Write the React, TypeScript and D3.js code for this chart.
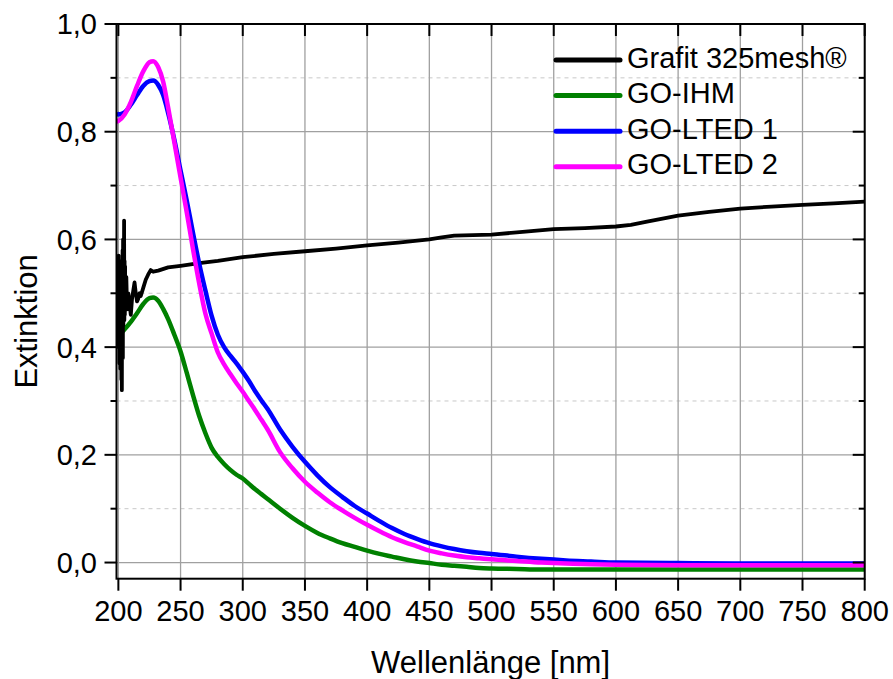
import React from "react";
import * as d3 from "d3";

// ---- data ----
const WAVELENGTHS = [198.5, 200, 205, 210, 215, 220, 225, 228, 232, 236, 240, 245, 250, 255, 260, 265, 270, 275, 280, 285, 290, 295, 300, 305, 310, 315, 320, 330, 340, 350, 360, 370, 380, 390, 400, 410, 420, 430, 440, 450, 460, 470, 480, 490, 500, 520, 540, 560, 580, 600, 650, 700, 750, 800];

const GO_LTED1 = [0.835, 0.832, 0.836, 0.850, 0.868, 0.885, 0.894, 0.895, 0.887, 0.868, 0.835, 0.785, 0.728, 0.672, 0.612, 0.555, 0.505, 0.458, 0.423, 0.400, 0.384, 0.370, 0.354, 0.337, 0.318, 0.301, 0.285, 0.247, 0.215, 0.187, 0.162, 0.140, 0.122, 0.105, 0.091, 0.077, 0.064, 0.053, 0.044, 0.036, 0.030, 0.025, 0.021, 0.018, 0.016, 0.011, 0.007, 0.004, 0.002, 0.000, -0.001, -0.002, -0.002, -0.002];

const GO_LTED2 = [0.818, 0.820, 0.832, 0.855, 0.885, 0.912, 0.929, 0.931, 0.920, 0.893, 0.845, 0.780, 0.715, 0.650, 0.582, 0.518, 0.462, 0.425, 0.390, 0.368, 0.350, 0.333, 0.317, 0.300, 0.283, 0.265, 0.247, 0.205, 0.175, 0.150, 0.130, 0.112, 0.097, 0.083, 0.070, 0.058, 0.047, 0.038, 0.030, 0.022, 0.017, 0.013, 0.010, 0.008, 0.006, 0.003, 0.000, -0.002, -0.003, -0.004, -0.005, -0.005, -0.005, -0.005];

const GO_IHM = [0.415, 0.420, 0.433, 0.447, 0.463, 0.480, 0.491, 0.492, 0.486, 0.471, 0.452, 0.423, 0.392, 0.352, 0.311, 0.272, 0.240, 0.213, 0.196, 0.183, 0.172, 0.163, 0.156, 0.146, 0.136, 0.127, 0.118, 0.100, 0.083, 0.068, 0.055, 0.045, 0.036, 0.029, 0.022, 0.016, 0.011, 0.006, 0.002, -0.001, -0.004, -0.006, -0.008, -0.010, -0.011, -0.012, -0.013, -0.013, -0.013, -0.013, -0.013, -0.013, -0.013, -0.013];

const GRAFIT_WAVELENGTHS = [198.6, 198.8, 199, 199.2, 199.4, 199.6, 199.8, 200, 200.2, 200.4, 200.6, 200.8, 201, 201.2, 201.4, 201.6, 201.8, 202, 202.2, 202.4, 202.6, 202.8, 203, 203.2, 203.4, 203.6, 203.8, 204, 204.2, 204.4, 204.6, 204.8, 205, 205.2, 205.4, 205.6, 205.8, 206.4, 207, 208, 209, 210, 211, 212, 213, 214, 215, 216, 217, 218, 220, 222, 224, 226, 228, 232, 240, 250, 265, 280, 300, 325, 350, 375, 400, 425, 450, 460, 470, 485, 500, 525, 550, 575, 600, 612, 625, 650, 675, 700, 725, 750, 775, 800];

const GRAFIT = [0.52, 0.44, 0.56, 0.42, 0.55, 0.46, 0.56, 0.40, 0.57, 0.43, 0.55, 0.37, 0.56, 0.40, 0.54, 0.36, 0.55, 0.39, 0.52, 0.34, 0.56, 0.32, 0.53, 0.41, 0.58, 0.38, 0.60, 0.44, 0.58, 0.47, 0.635, 0.45, 0.56, 0.46, 0.55, 0.47, 0.52, 0.53, 0.47, 0.50, 0.48, 0.46, 0.49, 0.505, 0.52, 0.50, 0.485, 0.49, 0.50, 0.495, 0.51, 0.525, 0.535, 0.543, 0.540, 0.542, 0.548, 0.551, 0.556, 0.560, 0.567, 0.573, 0.578, 0.583, 0.589, 0.594, 0.600, 0.604, 0.607, 0.608, 0.609, 0.614, 0.619, 0.621, 0.624, 0.627, 0.633, 0.644, 0.651, 0.657, 0.661, 0.664, 0.667, 0.670];

const LEGEND_LABELS = ["Grafit 325mesh®", "GO-IHM", "GO-LTED 1", "GO-LTED 2"];
const X_TICKS = [200, 250, 300, 350, 400, 450, 500, 550, 600, 650, 700, 750, 800];
const Y_TICKS = [0, 0.2, 0.4, 0.6, 0.8, 1.0];
const Y_MINOR = [0.1, 0.3, 0.5, 0.7, 0.9];
const X_TITLE = "Wellenlänge [nm]";
const Y_TITLE = "Extinktion";

// ---- layout ----
const W = 893, H = 679;
const L = 116.5, R = 864.7, T = 24, B = 578.7;
const FONT = "Arial, 'Liberation Sans', sans-serif";

export default function App() {
  const x = d3.scaleLinear().domain([198.5, 800]).range([L, R]);
  const y = d3.scaleLinear().domain([-0.03, 1.0]).range([B, T]);

  const mk = (xs: number[], ys: number[], curve: any) =>
    d3.line<number>().x((_, i) => x(xs[i])).y((v) => y(v)).curve(curve)(ys) || "";

  const series = [
    { key: "ihm", d: mk(WAVELENGTHS, GO_IHM, d3.curveMonotoneX), color: "#008000", w: 4.5 },
    { key: "graf", d: mk(GRAFIT_WAVELENGTHS, GRAFIT, d3.curveLinear), color: "#000000", w: 3.8 },
    { key: "l1", d: mk(WAVELENGTHS, GO_LTED1, d3.curveMonotoneX), color: "#0000ff", w: 4.5 },
    { key: "l2", d: mk(WAVELENGTHS, GO_LTED2, d3.curveMonotoneX), color: "#ff00ff", w: 4.5 },
  ];
  const legendColors = ["#000000", "#008000", "#0000ff", "#ff00ff"];
  const fmt = (v: number) => d3.format(".1f")(v).replace(".", ",");

  return (
    <svg width={W} height={H} style={{ position: "absolute", left: 0, top: 0, background: "#fff" }} fontFamily={FONT}>
      <defs>
        <clipPath id="plot">
          <rect x={L} y={T} width={R - L} height={B - T} />
        </clipPath>
      </defs>
      <rect x={0} y={0} width={W} height={H} fill="#fff" />
      {/* grid */}
      {Y_MINOR.map((v) => (
        <line key={"ym" + v} x1={L} x2={R} y1={y(v)} y2={y(v)} stroke="#c8c8c8" strokeWidth={1} strokeDasharray="4 4" />
      ))}
      {Y_TICKS.map((v) => (
        <line key={"yg" + v} x1={L} x2={R} y1={y(v)} y2={y(v)} stroke="#a0a0a0" strokeWidth={1.3} />
      ))}
      {X_TICKS.map((v) => (
        <line key={"xg" + v} x1={x(v)} x2={x(v)} y1={T} y2={B} stroke="#a0a0a0" strokeWidth={1.3} />
      ))}
      {/* series */}
      <g clipPath="url(#plot)">
        {series.map((s) => (
          <path key={s.key} d={s.d} fill="none" stroke={s.color} strokeWidth={s.w} strokeLinejoin="round" />
        ))}
      </g>
      {/* frame */}
      <rect x={L} y={T} width={R - L} height={B - T} fill="none" stroke="#000" strokeWidth={2} />
      {/* ticks */}
      {X_TICKS.map((v) => (
        <g key={"xt" + v}>
          <line x1={x(v)} x2={x(v)} y1={B} y2={B + 12} stroke="#000" strokeWidth={2} />
          <line x1={x(v)} x2={x(v)} y1={T} y2={T + 12} stroke="#000" strokeWidth={2} />
          <text x={x(v)} y={621} textAnchor="middle" fontSize={29} fill="#000">{v}</text>
        </g>
      ))}
      {Y_TICKS.map((v) => (
        <g key={"yt" + v}>
          <line x1={L - 12} x2={L} y1={y(v)} y2={y(v)} stroke="#000" strokeWidth={2} />
          <line x1={R - 12} x2={R} y1={y(v)} y2={y(v)} stroke="#000" strokeWidth={2} />
          <text x={97} y={y(v)} dy="0.36em" textAnchor="end" fontSize={29} fill="#000">{fmt(v)}</text>
        </g>
      ))}
      {Y_MINOR.map((v) => (
        <g key={"ymt" + v}>
          <line x1={L - 6} x2={L} y1={y(v)} y2={y(v)} stroke="#000" strokeWidth={2} />
          <line x1={R - 6} x2={R} y1={y(v)} y2={y(v)} stroke="#000" strokeWidth={2} />
        </g>
      ))}
      {/* titles */}
      <text x={(L + R) / 2} y={673} textAnchor="middle" fontSize={31} fill="#000">{X_TITLE}</text>
      <text transform={`translate(37,${(T + B) / 2 + 20}) rotate(-90)`} textAnchor="middle" fontSize={31} fill="#000">{Y_TITLE}</text>
      {/* legend */}
      {LEGEND_LABELS.map((lab, i) => {
        const ry = 60 + i * 35.6;
        return (
          <g key={lab}>
            <line x1={556} x2={620} y1={ry} y2={ry} stroke={legendColors[i]} strokeWidth={5} strokeLinecap="round" />
            <text x={627} y={ry + 7.5} fontSize={29} fill="#000">{lab}</text>
          </g>
        );
      })}
    </svg>
  );
}
